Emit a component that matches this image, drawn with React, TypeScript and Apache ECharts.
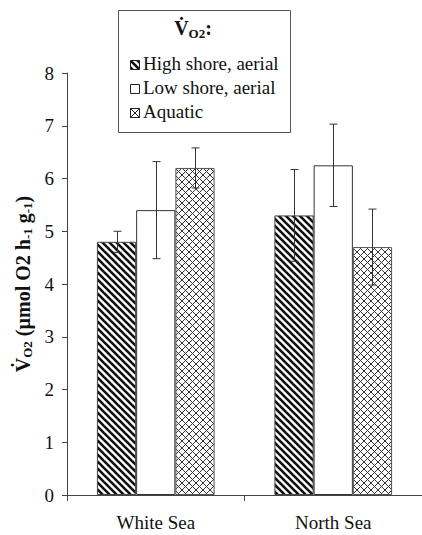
import React, { useEffect, useRef } from "react";
import * as echarts from "echarts";

const categories = ["White Sea", "North Sea"];
const seriesNames = ["High shore, aerial", "Low shore, aerial", "Aquatic"];
const highShore = [4.8, 5.3];
const lowShore = [5.4, 6.25];
const aquatic = [6.2, 4.7];
const highShoreErr = [0.2, 0.87];
const lowShoreErr = [0.92, 0.78];
const aquaticErr = [0.38, 0.72];
const yTicks = [0, 1, 2, 3, 4, 5, 6, 7, 8];

const FONT = "Liberation Serif";
const BAR_FRAC = 0.221;

function makeHatch(): HTMLCanvasElement {
  const s = 7;
  const c = document.createElement("canvas");
  c.width = s;
  c.height = s;
  const ctx = c.getContext("2d")!;
  ctx.fillStyle = "#ffffff";
  ctx.fillRect(0, 0, s, s);
  ctx.strokeStyle = "#111111";
  ctx.lineWidth = 2.6;
  for (let k = -1; k <= 1; k++) {
    ctx.beginPath();
    ctx.moveTo(k * s - 1, -1);
    ctx.lineTo(k * s + s + 1, s + 1);
    ctx.stroke();
  }
  return c;
}

function makeCross(): HTMLCanvasElement {
  const s = 7;
  const c = document.createElement("canvas");
  c.width = s;
  c.height = s;
  const ctx = c.getContext("2d")!;
  ctx.fillStyle = "#ffffff";
  ctx.fillRect(0, 0, s, s);
  ctx.strokeStyle = "#333333";
  ctx.lineWidth = 1;
  for (let k = -1; k <= 1; k++) {
    ctx.beginPath();
    ctx.moveTo(k * s - 1, -1);
    ctx.lineTo(k * s + s + 1, s + 1);
    ctx.stroke();
    ctx.beginPath();
    ctx.moveTo(k * s - 1, s + 1);
    ctx.lineTo(k * s + s + 1, -1);
    ctx.stroke();
  }
  return c;
}

export default function App() {
  const ref = useRef<HTMLDivElement>(null);
  useEffect(() => {
    if (!ref.current) return;
    const chart = echarts.init(ref.current, null, { renderer: "svg" });
    const hatch = { image: makeHatch(), repeat: "repeat" };
    const cross = { image: makeCross(), repeat: "repeat" };
    const fills: any[] = [hatch, "#ffffff", cross];
    const borders = ["#444444", "#333333", "#555555"];
    const means = [highShore, lowShore, aquatic];
    const errs = [highShoreErr, lowShoreErr, aquaticErr];

    const barSeries = means.map((vals, i) => ({
      type: "bar",
      name: seriesNames[i],
      data: vals,
      barWidth: "22.1%",
      barGap: "0%",
      itemStyle: { color: fills[i], borderColor: borders[i], borderWidth: 1 },
      z: 2,
    }));

    const errSeries = means.map((vals, i) => ({
      type: "custom",
      name: seriesNames[i] + " err",
      data: vals.map((v, j) => [j, v - errs[i][j], v + errs[i][j]]),
      encode: { x: 0, y: [1, 2] },
      z: 10,
      renderItem: (params: any, api: any) => {
        const cat = api.value(0);
        const top = api.coord([cat, api.value(2)]);
        const bot = api.coord([cat, api.value(1)]);
        const bw = api.size([1, 0])[0] * BAR_FRAC;
        const x = Math.round(top[0] + (i - 1) * bw) + 0.5;
        const cap = 4;
        const st = { stroke: "#333333", lineWidth: 1 };
        return {
          type: "group",
          children: [
            { type: "line", shape: { x1: x, y1: top[1], x2: x, y2: bot[1] }, style: st },
            { type: "line", shape: { x1: x - cap, y1: top[1], x2: x + cap, y2: top[1] }, style: st },
            { type: "line", shape: { x1: x - cap, y1: bot[1], x2: x + cap, y2: bot[1] }, style: st },
          ],
        };
      },
    }));

    const legendItems = seriesNames.map((n, i) => {
      const y = 65 + i * 24;
      const icon: any[] = [
        {
          type: "rect",
          shape: { x: 130.5, y: y - 4.5, width: 9, height: 9 },
          style: { fill: i === 0 ? hatch : "#ffffff", stroke: "#222222", lineWidth: 1 },
        },
      ];
      if (i === 2) {
        icon.push(
          { type: "line", shape: { x1: 130.5, y1: y - 4.5, x2: 139.5, y2: y + 4.5 }, style: { stroke: "#222222", lineWidth: 1 } },
          { type: "line", shape: { x1: 130.5, y1: y + 4.5, x2: 139.5, y2: y - 4.5 }, style: { stroke: "#222222", lineWidth: 1 } }
        );
      }
      return [
        ...icon,
        {
          type: "text",
          x: 143,
          y: y - 11,
          style: {
            text: n,
            fontFamily: FONT,
            fontSize: 19,
            fill: "#111111",
          },
        },
      ];
    }).flat();

    chart.setOption({
      animation: false,
      backgroundColor: "#ffffff",
      grid: { left: 67, width: 362, top: 73, bottom: 40, containLabel: false },
      xAxis: {
        type: "category",
        data: categories,
        axisLine: { lineStyle: { color: "#444444", width: 1 } },
        axisTick: { show: true, length: 6, lineStyle: { color: "#444444" } },
        axisLabel: { fontFamily: FONT, fontSize: 19, color: "#111111", margin: 18 },
      },
      yAxis: {
        type: "value",
        min: yTicks[0],
        max: yTicks[yTicks.length - 1],
        interval: 1,
        splitLine: { show: false },
        axisLine: { show: true, lineStyle: { color: "#444444", width: 1 } },
        axisTick: { show: true, length: 5, lineStyle: { color: "#444444" } },
        axisLabel: { fontFamily: FONT, fontSize: 19, color: "#111111", margin: 13 },
        name: "{b|V\u0307}{s|O2}{b| (µmol O2 h}{s|-1}{b| g}{s|-1}{b|)}",
        nameLocation: "middle",
        nameRotate: 90,
        nameGap: 33,
        nameTextStyle: {
          fontFamily: FONT,
          rich: {
            b: { fontFamily: FONT, fontSize: 20, fontWeight: "bold", color: "#111111", lineHeight: 22, verticalAlign: "middle" },
            s: { fontFamily: FONT, fontSize: 13, fontWeight: "bold", color: "#111111", lineHeight: 22, verticalAlign: "bottom" },
          },
        },
      },
      graphic: [
        {
          type: "rect",
          shape: { x: 118.5, y: 10.5, width: 172, height: 122 },
          style: { fill: "#ffffff", stroke: "#555555", lineWidth: 1 },
          z: 20,
        },
        {
          type: "text",
          x: 193,
          y: 28,
          z: 21,
          style: {
            text: "{b|V\u0307}{s|O2}{b|:}",
            align: "center",
            verticalAlign: "middle",
            fontFamily: FONT,
            rich: {
              b: { fontFamily: FONT, fontSize: 20, fontWeight: "bold", fill: "#111111", lineHeight: 24, verticalAlign: "middle" },
              s: { fontFamily: FONT, fontSize: 13, fontWeight: "bold", fill: "#111111", lineHeight: 24, verticalAlign: "bottom" },
            },
          },
        },
        ...legendItems.map((e: any) => ({ ...e, z: 21 })),
      ],
      series: [...barSeries, ...errSeries],
    });
    return () => chart.dispose();
  }, []);
  return (
    <div
      ref={ref}
      style={{ position: "absolute", left: 0, top: 0, width: 422, height: 535, background: "#fff", fontFamily: FONT }}
    />
  );
}
